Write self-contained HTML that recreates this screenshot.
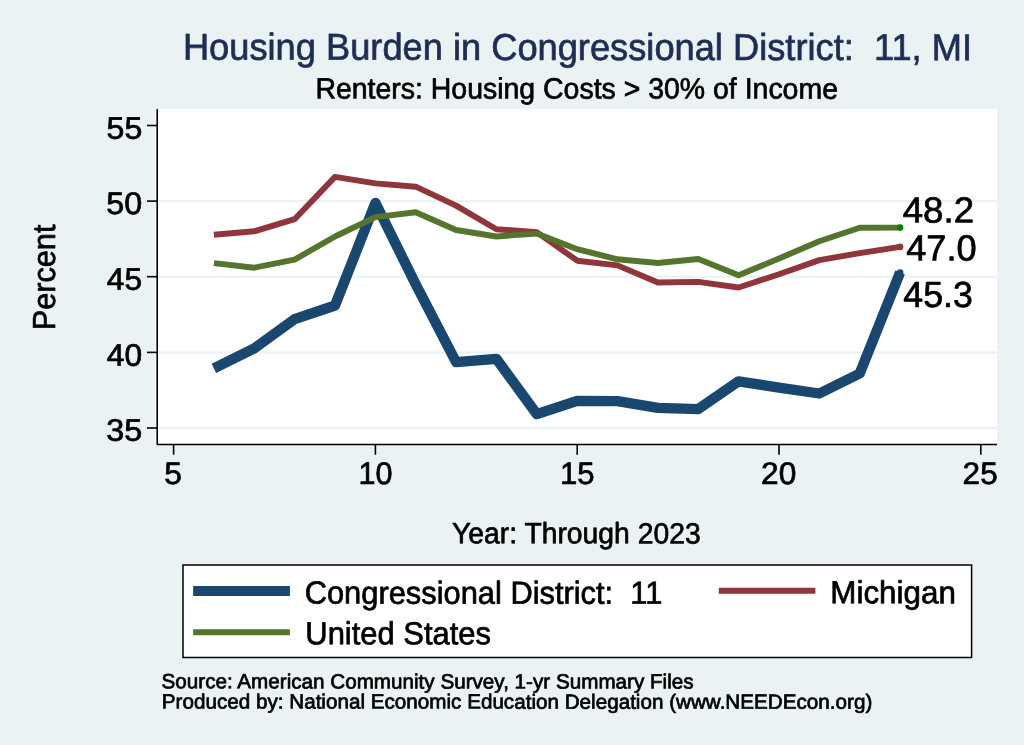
<!DOCTYPE html>
<html lang="en">
<head>
<meta charset="utf-8">
<title>Housing Burden in Congressional District: 11, MI</title>
<style>
html,body{margin:0;padding:0;background:#eaf2f3;}
body{width:1024px;height:745px;overflow:hidden;font-family:"Liberation Sans",sans-serif;}
svg{display:block;will-change:transform;}
</style>
</head>
<body>
<svg width="1024" height="745" viewBox="0 0 1024 745" font-family="Liberation Sans, sans-serif" text-rendering="geometricPrecision">
<rect x="0" y="0" width="1024" height="745" fill="#eaf2f3"/>
<rect x="155.6" y="108.8" width="841.4" height="335.7" fill="#ffffff"/>
<line x1="157.2" x2="997" y1="428.0" y2="428.0" stroke="#eaf2f3" stroke-width="2.1"/>
<line x1="157.2" x2="997" y1="352.4" y2="352.4" stroke="#eaf2f3" stroke-width="2.1"/>
<line x1="157.2" x2="997" y1="276.7" y2="276.7" stroke="#eaf2f3" stroke-width="2.1"/>
<line x1="157.2" x2="997" y1="201.1" y2="201.1" stroke="#eaf2f3" stroke-width="2.1"/>
<polyline points="213.9,368.4 254.3,348.4 294.6,319.1 335.0,305.5 375.4,202.9 415.7,284.3 456.1,362.2 496.4,358.9 536.8,414.1 577.2,400.8 617.5,401.2 657.9,407.9 698.3,409.1 738.6,381.3 779.0,387.6 819.3,393.5 859.7,373.5 900.1,272.5" fill="none" stroke="#1a476f" stroke-width="10.3" stroke-linejoin="round" stroke-linecap="butt"/>
<polyline points="213.9,234.7 254.3,231.3 294.6,219.2 335.0,176.9 375.4,183.4 415.7,186.7 456.1,205.6 496.4,229.2 536.8,232.1 577.2,260.7 617.5,265.4 657.9,282.5 698.3,281.9 738.6,287.5 779.0,274.2 819.3,260.1 859.7,253.1 900.1,246.9" fill="none" stroke="#90353b" stroke-width="5.9" stroke-linejoin="round" stroke-linecap="butt"/>
<polyline points="213.9,263.1 254.3,267.7 294.6,259.6 335.0,236.5 375.4,217.1 415.7,212.3 456.1,230.0 496.4,236.5 536.8,233.6 577.2,249.2 617.5,259.3 657.9,263.0 698.3,259.0 738.6,275.2 779.0,258.6 819.3,241.2 859.7,227.8 900.1,227.6" fill="none" stroke="#55752f" stroke-width="5.9" stroke-linejoin="round" stroke-linecap="butt"/>
<circle cx="900.1" cy="272.5" r="3.3" fill="#1a476f"/>
<circle cx="900.1" cy="246.9" r="3.3" fill="#90353b"/>
<circle cx="900.1" cy="227.6" r="3.3" fill="#008000"/>
<polyline points="157.2,108.9 157.2,444.45 997,444.45" fill="none" stroke="#000" stroke-width="1.6" stroke-linejoin="round"/>
<line x1="147.0" x2="157.2" y1="428.0" y2="428.0" stroke="#000" stroke-width="1.6"/>
<line x1="147.0" x2="157.2" y1="352.4" y2="352.4" stroke="#000" stroke-width="1.6"/>
<line x1="147.0" x2="157.2" y1="276.7" y2="276.7" stroke="#000" stroke-width="1.6"/>
<line x1="147.0" x2="157.2" y1="201.1" y2="201.1" stroke="#000" stroke-width="1.6"/>
<line x1="147.0" x2="157.2" y1="125.5" y2="125.5" stroke="#000" stroke-width="1.6"/>
<line x1="173.6" x2="173.6" y1="444.45" y2="454.7" stroke="#000" stroke-width="1.6"/>
<line x1="375.4" x2="375.4" y1="444.45" y2="454.7" stroke="#000" stroke-width="1.6"/>
<line x1="577.2" x2="577.2" y1="444.45" y2="454.7" stroke="#000" stroke-width="1.6"/>
<line x1="779.0" x2="779.0" y1="444.45" y2="454.7" stroke="#000" stroke-width="1.6"/>
<line x1="980.8" x2="980.8" y1="444.45" y2="454.7" stroke="#000" stroke-width="1.6"/>
<text font-size="37.50" fill="#1e2d53" stroke="#1e2d53" stroke-width="0.70" stroke-linejoin="round" transform="translate(182.91,59.95) matrix(0.9666 0.0005 0 1 0 -0.203)" xml:space="preserve">Housing Burden in Congressional District:  11, MI</text>
<text font-size="29.28" fill="#000" stroke="#000" stroke-width="0.70" stroke-linejoin="round" transform="translate(315.39,98.52) matrix(0.9720 0.0005 0 1 0 -0.134)">Renters: Housing Costs &gt; 30% of Income</text>
<text font-size="31.83" fill="#000" stroke="#000" stroke-width="0.70" stroke-linejoin="round" transform="translate(55.08,330.35) rotate(-90) matrix(0.9646 0.0005 0 1 0 -0.027)">Percent</text>
<text font-size="31.20" fill="#000" stroke="#000" stroke-width="0.70" stroke-linejoin="round" transform="translate(106.61,138.84) matrix(1.0291 0.0005 0 1 0 -0.008)">55</text>
<text font-size="31.20" fill="#000" stroke="#000" stroke-width="0.70" stroke-linejoin="round" transform="translate(106.29,214.08) matrix(1.0354 0.0005 0 1 0 -0.008)">50</text>
<text font-size="31.20" fill="#000" stroke="#000" stroke-width="0.70" stroke-linejoin="round" transform="translate(106.87,289.64) matrix(1.0156 0.0005 0 1 0 -0.008)">45</text>
<text font-size="31.20" fill="#000" stroke="#000" stroke-width="0.70" stroke-linejoin="round" transform="translate(106.84,365.65) matrix(1.0176 0.0005 0 1 0 -0.008)">40</text>
<text font-size="31.20" fill="#000" stroke="#000" stroke-width="0.70" stroke-linejoin="round" transform="translate(106.36,440.82) matrix(1.0357 0.0005 0 1 0 -0.008)">35</text>
<text font-size="31.20" fill="#000" stroke="#000" stroke-width="0.70" stroke-linejoin="round" transform="translate(164.35,483.99) matrix(1.0206 0.0005 0 1 0 -0.004)">5</text>
<text font-size="31.20" fill="#000" stroke="#000" stroke-width="0.70" stroke-linejoin="round" transform="translate(358.49,484.05) matrix(0.9791 0.0005 0 1 0 -0.008)">10</text>
<text font-size="31.20" fill="#000" stroke="#000" stroke-width="0.70" stroke-linejoin="round" transform="translate(559.97,483.94) matrix(0.9967 0.0005 0 1 0 -0.008)">15</text>
<text font-size="31.20" fill="#000" stroke="#000" stroke-width="0.70" stroke-linejoin="round" transform="translate(760.98,483.99) matrix(1.0175 0.0005 0 1 0 -0.008)">20</text>
<text font-size="31.20" fill="#000" stroke="#000" stroke-width="0.70" stroke-linejoin="round" transform="translate(962.62,483.97) matrix(1.0100 0.0005 0 1 0 -0.008)">25</text>
<text font-size="29.42" fill="#000" stroke="#000" stroke-width="0.70" stroke-linejoin="round" transform="translate(452.04,543.35) matrix(0.9623 0.0005 0 1 0 -0.064)">Year: Through 2023</text>
<text font-size="36.30" fill="#000" stroke="#000" stroke-width="0.70" stroke-linejoin="round" transform="translate(902.69,222.59) matrix(1.0100 0.0005 0 1 0 -0.017)">48.2</text>
<text font-size="36.30" fill="#000" stroke="#000" stroke-width="0.70" stroke-linejoin="round" transform="translate(906.18,260.52) matrix(0.9960 0.0005 0 1 0 -0.017)">47.0</text>
<text font-size="36.30" fill="#000" stroke="#000" stroke-width="0.70" stroke-linejoin="round" transform="translate(903.31,306.90) matrix(0.9839 0.0005 0 1 0 -0.017)">45.3</text>
<rect x="183" y="565" width="788.6" height="92.5" fill="#fff" stroke="#000" stroke-width="1.5"/>
<line x1="193.15" x2="289.9" y1="591" y2="591" stroke="#1a476f" stroke-width="9.8"/>
<line x1="193.15" x2="289.9" y1="632.2" y2="632.2" stroke="#55752f" stroke-width="5.9"/>
<line x1="718.8" x2="815.4" y1="590.8" y2="590.8" stroke="#90353b" stroke-width="5.9"/>
<text font-size="31.83" fill="#000" stroke="#000" stroke-width="0.70" stroke-linejoin="round" transform="translate(304.65,603.69) matrix(0.9690 0.0005 0 1 0 -0.092)" xml:space="preserve">Congressional District:  11</text>
<text font-size="31.83" fill="#000" stroke="#000" stroke-width="0.70" stroke-linejoin="round" transform="translate(305.31,644.20) matrix(0.9719 0.0005 0 1 0 -0.047)">United States</text>
<text font-size="31.83" fill="#000" stroke="#000" stroke-width="0.70" stroke-linejoin="round" transform="translate(830.28,603.36) matrix(0.9857 0.0005 0 1 0 -0.031)">Michigan</text>
<text font-size="20.58" fill="#000" stroke="#000" stroke-width="0.70" stroke-linejoin="round" transform="translate(161.53,688.45) matrix(1.0035 0.0005 0 1 0 -0.132)">Source: American Community Survey, 1-yr Summary Files</text>
<text font-size="20.58" fill="#000" stroke="#000" stroke-width="0.70" stroke-linejoin="round" transform="translate(161.83,708.63) matrix(1.0034 0.0005 0 1 0 -0.176)">Produced by: National Economic Education Delegation (www.NEEDEcon.org)</text>
</svg>
</body>
</html>
